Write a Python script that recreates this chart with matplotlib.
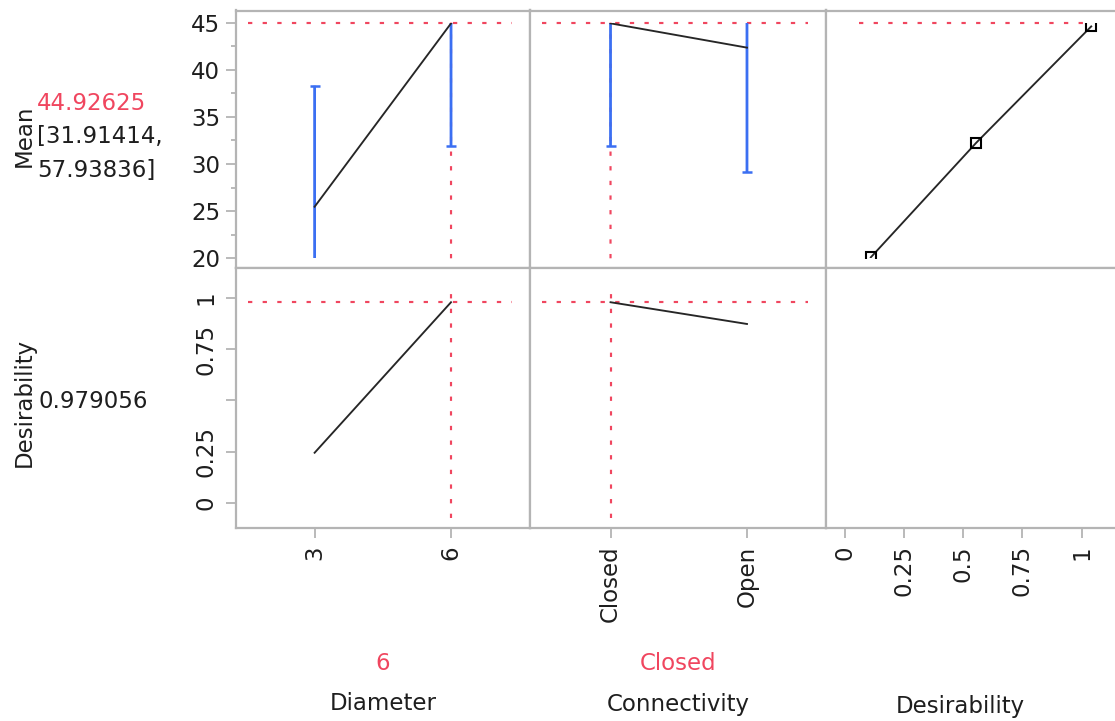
import matplotlib
matplotlib.use("Agg")
import matplotlib.pyplot as plt
from matplotlib.patches import Rectangle
from matplotlib.ticker import MultipleLocator

# ---- data -------------------------------------------------------------
diameter_levels = [3, 6]
diameter_mean = [25.47, 44.92625]
diameter_lower = [12.63, 31.91414]
diameter_upper = [38.31, 57.93836]
diameter_desir = [0.245, 0.979056]

connect_levels = ["Closed", "Open"]
connect_mean = [44.92625, 42.35]
connect_lower = [31.91414, 29.15]
connect_upper = [57.93836, 55.55]
connect_desir = [0.979056, 0.873]

# desirability function control points (desirability, mean)
desir_points_x = [0.11, 0.555, 1.04]
desir_points_y = [20.1, 32.26, 44.6]

current_diameter = 6
current_connect = "Closed"
current_mean = 44.92625
current_ci = (31.91414, 57.93836)
current_desir = 0.979056

mean_ticks = [20, 25, 30, 35, 40, 45]
desir_ticks = [0, 0.25, 0.5, 0.75, 1]
desir_ticklabels = ["0", "0.25", "", "0.75", "1"]
desir_xticklabels = ["0", "0.25", "0.5", "0.75", "1"]

# ---- style ------------------------------------------------------------
W, H = 1115, 721
RED = "#f0465f"
BLUE = "#3b6ff2"
TRACE = "#262626"
FRAME = "#b4b4b4"
TXT = "#1e1e1e"
FS = 16.5

plt.rcParams["font.family"] = ["DejaVu Sans"]

fig = plt.figure(figsize=(W / 100, H / 100), dpi=100)
fig.patch.set_facecolor("white")


def px_axes(left, top, right, bottom):
    return fig.add_axes([left / W, 1 - bottom / H, (right - left) / W, (bottom - top) / H])


cols = [(236, 530), (530, 826), (826, 1118)]
rows = [(10.5, 268), (268, 528)]
axes = [[px_axes(c[0], r[0], c[1], r[1]) for c in cols] for r in rows]

xlims = [(1.271, 7.737), (-0.59, 1.579), (-0.079, 1.153)]
ylims = [(18.97, 46.29), (-0.122, 1.146)]

# region inside each cell where traces are drawn
clip_x = (0.041, 0.939)
clip_y = [(0.0377, 0.953), (0.038, 0.935)]

for i in range(2):
    for j in range(3):
        ax = axes[i][j]
        ax.set_xlim(*xlims[j])
        ax.set_ylim(*ylims[i])
        for s in ax.spines.values():
            s.set_color(FRAME)
            s.set_linewidth(1.6)
        ax.tick_params(colors=FRAME, labelcolor=TXT, labelsize=FS,
                       length=7.5, width=1.3)
        ax.set_xticks([])
        ax.set_yticks([])
axes[0][2].spines["right"].set_visible(False)
axes[1][2].spines["right"].set_visible(False)


def clipper(ax, i):
    return Rectangle((clip_x[0], clip_y[i][0]), clip_x[1] - clip_x[0],
                     clip_y[i][1] - clip_y[i][0], transform=ax.transAxes,
                     facecolor="none", edgecolor="none")


dash = (0, (2.0, 4.8))
RLW = 1.55

# ---- top row: Mean ----------------------------------------------------
ax = axes[0][0]
ax.set_yticks(mean_ticks)
ax.yaxis.set_minor_locator(MultipleLocator(2.5))
ax.tick_params(axis="y", which="minor", length=3.8, width=1.3, color=FRAME)
ax.tick_params(axis="y", which="major", pad=4)

for j, (xs, mean, lo, hi) in enumerate([
        (diameter_levels, diameter_mean, diameter_lower, diameter_upper),
        ([0, 1], connect_mean, connect_lower, connect_upper)]):
    ax = axes[0][j]
    cur_x = current_diameter if j == 0 else connect_levels.index(current_connect)
    ax.axhline(current_mean, xmin=clip_x[0], xmax=clip_x[1],
               color=RED, lw=RLW, ls=dash, zorder=1)
    ax.axvline(cur_x, ymin=clip_y[0][0], ymax=clip_y[0][1],
               color=RED, lw=RLW, ls=dash, zorder=1, snap=False)
    # confidence whiskers as plain lines so they sit exactly over the guides
    for x, l, h in zip(xs, lo, hi):
        wl, = ax.plot([x, x], [l, h], color=BLUE, lw=2.0, zorder=3,
                      solid_capstyle="butt", snap=False)
        cl, = ax.plot([x, x], [l, h], ls="none", marker="_", ms=7.6, mew=1.8,
                      color=BLUE, zorder=3)
        wl.set_clip_path(clipper(ax, 0))
        cl.set_clip_path(clipper(ax, 0))
    tr, = ax.plot(xs, mean, color=TRACE, lw=1.35, zorder=4)
    tr.set_clip_path(clipper(ax, 0))

ax = axes[0][2]
ax.hlines(current_mean, 0.06, 1.015, color=RED, lw=RLW, ls=dash, zorder=1)
dl, = ax.plot(desir_points_x, desir_points_y, color=TRACE, lw=1.35,
              marker="s", ms=7.2, mfc="none", mec="black", mew=1.5, zorder=3)
dl.set_clip_path(clipper(ax, 0))

# ---- bottom row: Desirability -----------------------------------------
ax = axes[1][0]
ax.set_yticks(desir_ticks)
ax.set_yticklabels(desir_ticklabels, rotation=90, va="center")
ax.tick_params(axis="y", pad=6)

for j, (xs, d) in enumerate([(diameter_levels, diameter_desir),
                             ([0, 1], connect_desir)]):
    ax = axes[1][j]
    cur_x = current_diameter if j == 0 else connect_levels.index(current_connect)
    ax.axhline(current_desir, xmin=clip_x[0], xmax=clip_x[1],
               color=RED, lw=RLW, ls=dash, zorder=1)
    ax.axvline(cur_x, ymin=clip_y[1][0], ymax=clip_y[1][1],
               color=RED, lw=RLW, ls=dash, zorder=1)
    tr, = ax.plot(xs, d, color=TRACE, lw=1.35, zorder=3)
    tr.set_clip_path(clipper(ax, 1))

# x axes of the bottom row
axes[1][0].set_xticks(diameter_levels)
axes[1][0].set_xticklabels([str(v) for v in diameter_levels], rotation=90, va="top")
axes[1][1].set_xticks([0, 1])
axes[1][1].set_xticklabels(connect_levels, rotation=90, va="top")
axes[1][2].set_xticks(desir_ticks)
axes[1][2].set_xticklabels(desir_xticklabels, rotation=90, va="top")
for j in range(3):
    axes[1][j].tick_params(axis="x", pad=5)


# ---- side and bottom labels -------------------------------------------
def ftext(x, y, s, **kw):
    kw.setdefault("fontsize", FS)
    kw.setdefault("color", TXT)
    fig.text(x / W, 1 - y / H, s, **kw)


ftext(24, 136, "Mean", rotation=90, ha="center", va="center")
ftext(37, 104, f"{current_mean:.5f}", color=RED, ha="left", va="center")
ftext(37, 137, f"[{current_ci[0]:.5f},", ha="left", va="center")
ftext(37, 170, f"{current_ci[1]:.5f}]", ha="left", va="center")

ftext(24, 402, "Desirability", rotation=90, ha="center", va="center")
ftext(39, 402, f"{current_desir:.6f}", ha="left", va="center")

ftext(383, 663, str(current_diameter), color=RED, ha="center", va="center")
ftext(678, 663, current_connect, color=RED, ha="center", va="center")
ftext(383, 704, "Diameter", ha="center", va="center")
ftext(678, 704, "Connectivity", ha="center", va="center")
ftext(960, 706, "Desirability", ha="center", va="center")

fig.savefig("out.png", dpi=100, facecolor="white")
